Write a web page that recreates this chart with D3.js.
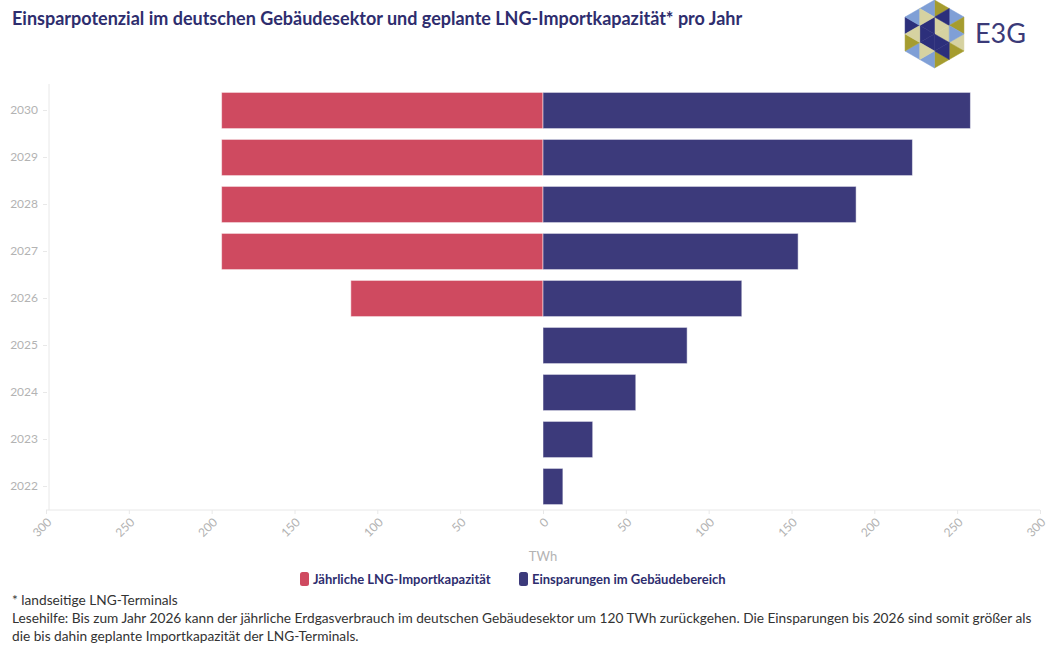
<!DOCTYPE html>
<html>
<head>
<meta charset="utf-8">
<script src="https://cdn.jsdelivr.net/npm/d3@7"></script>
<style>
  html, body { margin: 0; padding: 0; background: #fff; }
  svg { display: block; }
</style>
</head>
<body>
<svg id="chart" width="1048" height="646"></svg>
<script>
// Jahre (von oben nach unten)
const years = ["2030", "2029", "2028", "2027", "2026", "2025", "2024", "2023", "2022"];
// Jährliche LNG-Importkapazität in TWh (links dargestellt)
const lngImport = [194, 194, 194, 194, 116, 0, 0, 0, 0];
// Einsparungen im Gebäudebereich in TWh (rechts dargestellt)
const savings = [258, 223, 189, 154, 120, 87, 56, 30, 12];
// Achsenbeschriftungen der x-Achse
const xTicks = [-300, -250, -200, -150, -100, -50, 0, 50, 100, 150, 200, 250, 300];
const seriesNames = ["Jährliche LNG-Importkapazität", "Einsparungen im Gebäudebereich"];
const seriesColors = ["#cf4a60", "#3c3a7b"];

const svg = d3.select("#chart");
const font = "Lato, 'Open Sans', sans-serif";
const navy = "#2e2d6e";

// Titel
svg.append("text")
  .attr("x", 12).attr("y", 25)
  .attr("font-family", font).attr("font-weight", 700).attr("font-size", 18)
  .attr("fill", navy)
  .text("Einsparpotenzial im deutschen Gebäudesektor und geplante LNG-Importkapazität* pro Jahr");

// Logo: Sechseck aus Dreiecken + Schriftzug
const logo = svg.append("g");
const cx = 934.5, cy = 34, R = 34;
const verts = d3.range(6).map(i => {
  const a = (-90 + 60 * i) * Math.PI / 180;
  return [cx + R * Math.cos(a), cy + R * Math.sin(a)];
});
const mid = (p, q) => [(p[0] + q[0]) / 2, (p[1] + q[1]) / 2];
const olive = "#a59c2f", lblue = "#7f9fd6", dblue = "#2c2f7b", beige = "#d6d2a1";
// pro großem Dreieck: [Mitte-Ecke, Ecke i, Ecke i+1, Innen]
const triColors = [
  [beige, olive, lblue, dblue],
  [beige, olive, beige, lblue],
  [dblue, olive, olive, dblue],
  [dblue, lblue, lblue, beige],
  [dblue, olive, dblue, beige],
  [dblue, lblue, lblue, beige]
];
const C = [cx, cy];
verts.forEach((v, i) => {
  const w = verts[(i + 1) % 6];
  const mcv = mid(C, v), mcw = mid(C, w), mvw = mid(v, w);
  const tris = [[C, mcv, mcw], [v, mcv, mvw], [w, mcw, mvw], [mcv, mcw, mvw]];
  tris.forEach((t, j) => {
    logo.append("path")
      .attr("d", d3.line()(t) + "Z")
      .attr("fill", triColors[i][j])
      .attr("stroke", triColors[i][j]).attr("stroke-width", 0.5);
  });
});
logo.append("text")
  .attr("x", 975).attr("y", 43)
  .attr("font-family", font).attr("font-size", 27)
  .attr("fill", "#3b3a78")
  .text("E3G");

// Skalen
const x = d3.scaleLinear().domain([-300, 300]).range([46, 1040]);
const y = d3.scaleBand().domain(years).range([87, 510]).paddingInner(0.23).paddingOuter(0.115);

const grid = "#e8e8e8";
const axisGrey = "#b3b3b3";

// Achsenlinien
svg.append("line")
  .attr("x1", x(-300)).attr("x2", x(300)).attr("y1", 510).attr("y2", 510)
  .attr("stroke", grid).attr("stroke-width", 1);
svg.append("line")
  .attr("x1", 49).attr("x2", 49).attr("y1", 84).attr("y2", 510)
  .attr("stroke", grid).attr("stroke-width", 1);

// x-Achse
const xAxis = d3.axisBottom(x).tickValues(xTicks).tickSize(4).tickFormat(d => Math.abs(d));
const gx = svg.append("g").attr("transform", "translate(0,510)").call(xAxis);
gx.select(".domain").remove();
gx.selectAll(".tick line").attr("stroke", grid);
gx.selectAll(".tick text")
  .attr("font-family", font).attr("font-size", 12).attr("fill", axisGrey)
  .attr("text-anchor", "end")
  .attr("transform", "translate(3,10) rotate(-45)")
  .attr("dy", "0.35em").attr("y", 0).attr("x", 0);

// y-Achse
const yAxis = d3.axisLeft(y).tickSize(4).tickPadding(5);
const gy = svg.append("g").attr("transform", "translate(47,0)").call(yAxis);
gy.select(".domain").remove();
gy.selectAll(".tick line").attr("stroke", grid);
gy.selectAll(".tick text")
  .attr("font-family", font).attr("font-size", 12).attr("fill", axisGrey);

// Achsentitel
svg.append("text")
  .attr("x", x(0)).attr("y", 561)
  .attr("text-anchor", "middle")
  .attr("font-family", font).attr("font-size", 13).attr("fill", axisGrey)
  .text("TWh");

// Balken
const rows = years.map((yr, i) => ({ year: yr, lng: lngImport[i], sav: savings[i] }));
svg.append("g").selectAll("rect")
  .data(rows.filter(d => d.lng > 0))
  .join("rect")
  .attr("x", d => x(-d.lng)).attr("width", d => x(0) - x(-d.lng))
  .attr("y", d => y(d.year)).attr("height", y.bandwidth())
  .attr("fill", seriesColors[0])
  .attr("stroke", "#fff").attr("stroke-opacity", 0.5).attr("stroke-width", 1);
svg.append("g").selectAll("rect")
  .data(rows)
  .join("rect")
  .attr("x", x(0)).attr("width", d => x(d.sav) - x(0))
  .attr("y", d => y(d.year)).attr("height", y.bandwidth())
  .attr("fill", seriesColors[1])
  .attr("stroke", "#fff").attr("stroke-opacity", 0.5).attr("stroke-width", 1);

// Legende
const legendX = [300, 519];
const lg = svg.append("g");
seriesNames.forEach((name, i) => {
  lg.append("rect")
    .attr("x", legendX[i]).attr("y", 572).attr("width", 9).attr("height", 14)
    .attr("rx", 2.5).attr("fill", seriesColors[i]);
  lg.append("text")
    .attr("x", legendX[i] + 13).attr("y", 584)
    .attr("font-family", font).attr("font-weight", 700).attr("font-size", 13)
    .attr("fill", navy)
    .text(name);
});

// Fußnoten
const notes = [
  "* landseitige LNG-Terminals",
  "Lesehilfe: Bis zum Jahr 2026 kann der jährliche Erdgasverbrauch im deutschen Gebäudesektor um 120 TWh zurückgehen. Die Einsparungen bis 2026 sind somit größer als",
  "die bis dahin geplante Importkapazität der LNG-Terminals."
];
svg.append("g").selectAll("text")
  .data(notes)
  .join("text")
  .attr("x", 12).attr("y", (d, i) => 605 + i * 18)
  .attr("font-family", font).attr("font-size", 13.7).attr("fill", "#333")
  .text(d => d);
</script>
</body>
</html>
